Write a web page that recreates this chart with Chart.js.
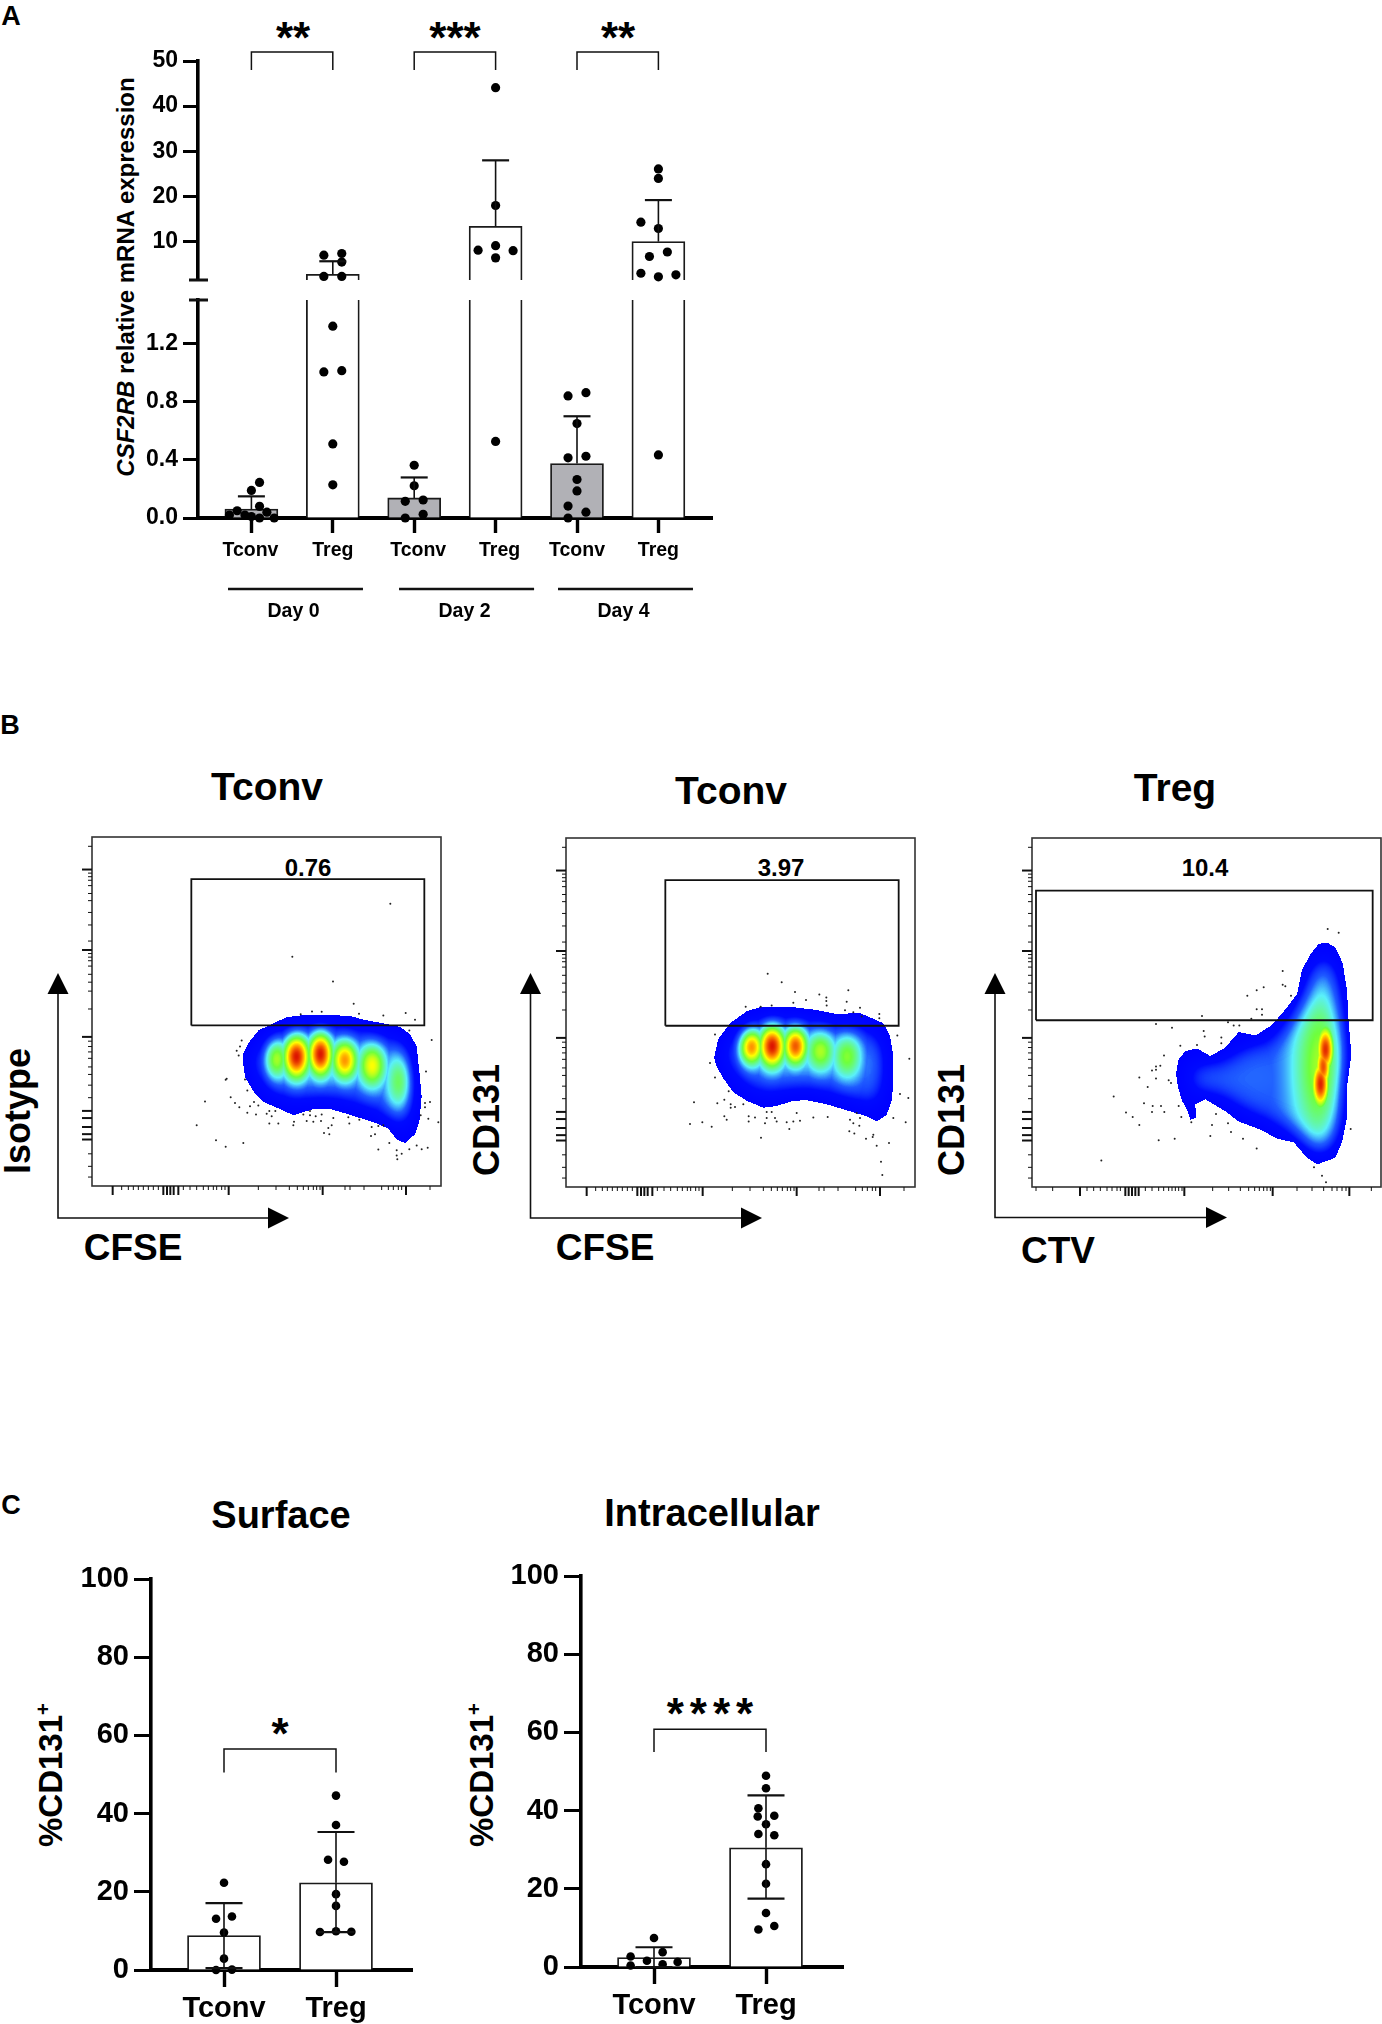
<!DOCTYPE html>
<html>
<head>
<meta charset="utf-8">
<title>CSF2RB and CD131 expression</title>
<script src="https://cdn.jsdelivr.net/npm/chart.js@4"></script>
<style>
  html, body { margin: 0; background: #fff; }
  #page { position: relative; width: 1382px; height: 2024px; overflow: hidden; font-family: "Liberation Sans", Arial, sans-serif; color: #000; }
  #page canvas { position: absolute; }
  #page svg { position: absolute; left: 0; top: 0; }
  .t { position: absolute; font-weight: bold; white-space: nowrap; line-height: 1; transform: translate(-50%, -50%); }
  .v { transform: translate(-50%, -50%) rotate(-90deg); }
  sup { font-size: 0.62em; line-height: 0; }
</style>
</head>
<body>
<div id="page">
  <div class="t" style="left:11px;top:16px;font-size:27px">A</div>
  <div class="t" style="left:10px;top:725px;font-size:27px">B</div>
  <div class="t" style="left:11px;top:1505px;font-size:27px">C</div>

  <div class="t" style="left:293px;top:38px;font-size:44px">**</div>
  <div class="t" style="left:455px;top:38px;font-size:44px">***</div>
  <div class="t" style="left:618px;top:38px;font-size:44px">**</div>
  <div class="t v" style="left:126px;top:277px;font-size:24px"><i>CSF2RB</i> relative mRNA expression</div>

  <div class="t" style="left:267px;top:786px;font-size:39px">Tconv</div>
  <div class="t" style="left:731px;top:790px;font-size:39px">Tconv</div>
  <div class="t" style="left:1175px;top:787px;font-size:39px">Treg</div>
  <div class="t" style="left:308px;top:868px;font-size:24px">0.76</div>
  <div class="t" style="left:781px;top:868px;font-size:24px">3.97</div>
  <div class="t" style="left:1205px;top:868px;font-size:24px">10.4</div>
  <div class="t v" style="left:18px;top:1111px;font-size:36px">Isotype</div>
  <div class="t v" style="left:487px;top:1120px;font-size:36px">CD131</div>
  <div class="t v" style="left:952px;top:1120px;font-size:36px">CD131</div>
  <div class="t" style="left:133px;top:1247px;font-size:37px">CFSE</div>
  <div class="t" style="left:605px;top:1247px;font-size:37px">CFSE</div>
  <div class="t" style="left:1058px;top:1250px;font-size:37px">CTV</div>

  <div class="t" style="left:281px;top:1515px;font-size:38px">Surface</div>
  <div class="t" style="left:712px;top:1513px;font-size:38px">Intracellular</div>
  <div class="t" style="left:280px;top:1734px;font-size:44px">*</div>
  <div class="t" style="left:713px;top:1714px;font-size:44px;letter-spacing:6px">****</div>
  <div class="t v" style="left:50px;top:1775px;font-size:33px">%CD131<sup>+</sup></div>
  <div class="t v" style="left:481px;top:1775px;font-size:33px">%CD131<sup>+</sup></div>

  <svg width="1382" height="2024">
    <g fill="none" stroke="#111" stroke-width="1.6">
      <path d="M58 985V1218H275"/>
      <path d="M530.5 985V1218H748"/>
      <path d="M995 985V1217.5H1212"/>
    </g>
    <g fill="#000">
      <path d="M58 973L47.5 994H68.5Z"/><path d="M289 1218L268 1207.5V1228.5Z"/>
      <path d="M530.5 973L520 994H541Z"/><path d="M762 1218L741 1207.5V1228.5Z"/>
      <path d="M995 973L984.5 994H1005.5Z"/><path d="M1227 1217.5L1206 1207V1228Z"/>
    </g>
  </svg>
</div>

<script>
const BOLD = '"Liberation Sans", Arial, sans-serif';
Chart.defaults.font.family = BOLD;
Chart.defaults.font.weight = 'bold';
Chart.defaults.color = '#000';
Chart.defaults.animation = false;

// ---- panel A, x is the group position 1..6
const groupsA = ['Tconv', 'Treg', 'Tconv', 'Treg', 'Tconv', 'Treg'];
const meansA = [0.062, 2.75, 0.138, 13.4, 0.375, 10];
const errTopA = [0.149, 5.65, 0.279, 28, 0.7, 19.2];
const pointsA = [
  [[1.1, .245], [1, .19], [1.1, .08], [.825, .05], [1.19, .04], [.73, .02], [.92, .02], [1, .01], [1.1, 0], [1.28, 0]],
  [[1.89, 7], [2.11, 7.37], [2.11, 5.47], [1.89, 2.3], [2.11, 2.3], [2, 1.32], [1.89, 1.005], [2.11, 1.014], [2, .51], [2, .228]],
  [[3, .363], [3, .222], [2.89, .115], [3.11, .124], [3.11, .025], [2.89, 0]],
  [[4, 44.1], [4, 18], [3.785, 8.1], [4, 9.1], [4.215, 8], [4, 6.4], [4, .527]],
  [[5, .65], [4.89, .84], [5.11, .862], [4.89, .414], [5.11, .425], [5, .265], [5, .186], [4.89, .082], [5.11, .04], [4.89, 0]],
  [[6, 26.1], [6, 24], [5.785, 14.3], [6, 12.9], [6.11, 7.7], [5.89, 6.7], [5.785, 3], [6.215, 2.65], [6, 2.2], [6, .434]]
];
const ticksUpperA = [10, 20, 30, 40, 50];
const ticksLowerA = [0, 0.4, 0.8, 1.2];
const axisBreakA = 1.5;
const bracketsA = [[1, 2, 52, 48], [3, 4, 52, 48], [5, 6, 52, 48]];
const daysA = ['Day 0', 'Day 2', 'Day 4'];
const dayLinesA = [[.725, 2.383], [2.826, 4.485], [4.779, 6.437]];

// ---- panel C
const groupsC = ['Tconv', 'Treg'];
const ticksC = [0, 20, 40, 60, 80, 100];
const meansSurface = [8.8, 22.3];
const errTopSurface = [17.1, 35.3];
const errBotSurface = [0.5, 9.7];
const pointsSurface = [
  [[1, 22.3], [1.071, 13.7], [.929, 13.1], [1, 9.6], [1, 2.9], [.929, 0], [1.071, .1]],
  [[2, 44.6], [2, 37.1], [1.929, 28.2], [2.071, 27.7], [2, 19.4], [2, 16.4], [1.857, 9.7], [2, 9.9], [2.137, 9.8]]
];
const meansIntra = [2.4, 30.5];
const errTopIntra = [5.05, 43.9];
const errBotIntra = [0, 17.5];
const pointsIntra = [
  [[1, 7.4], [1.077, 3.8], [.791, 2.7], [.937, 1.6], [1.211, 1.3], [.791, .4], [1.077, .7]],
  [[2, 48.9], [2, 45.7], [1.932, 40.6], [1.926, 38.5], [2.074, 38.7], [2, 36.5], [1.932, 34], [2.074, 33.7], [2, 26.3], [2, 21.3], [2, 13.8], [2.074, 10.5], [1.932, 9.6]]
];

// ---- panel B, all in cytometer channels counted from the lower left of each plot
const flowWidth = 1047;
const flowHeight = [976, 1013, 1013];
const gates = [[298, 997, 449, 858], [298, 998, 468, 891], [12, 1022, 484, 860]];

const outline1 = [[454,370],[469,400],[499,435],[544,455],[584,472],[624,477],[684,478],[774,476],[814,465],[874,455],[924,445],[954,425],[974,390],[982,320],[989,250],[982,180],[969,145],[939,120],[914,130],[889,160],[854,175],[804,190],[754,205],[714,215],[664,215],[604,198],[564,215],[514,235],[484,265],[459,305],[454,340]];
const outline2 = [[444,375],[457,430],[492,475],[542,510],[582,522],[682,522],[742,515],[812,502],[882,505],[952,475],[972,440],[982,380],[982,300],[977,250],[962,210],[932,190],[902,205],[852,220],[782,240],[722,252],[682,250],[632,235],[592,230],[542,250],[502,275],[472,315],[452,350]];
const outline3 = [[432,330],[440,370],[460,395],[495,402],[535,380],[580,405],[620,450],[670,440],[720,470],[760,515],[795,560],[810,630],[835,675],[860,705],[885,710],[910,695],[932,650],[945,570],[950,480],[958,385],[945,290],[945,200],[930,130],[910,85],[855,65],[825,85],[785,130],[735,140],[690,165],[620,190],[580,220],[520,255],[490,240],[492,200],[475,195],[465,225],[450,250],[438,290]];

// density peaks: channel x, channel y, level, spread x, spread y
const peaks1 = [[552,357,.66,26,42],[612,363,1,28,44],[684,370,1,26,44],[757,353,.85,28,40],[839,338,.74,30,44],[924,295,.62,30,62],[690,350,.5,120,46]];
const peaks2 = [[555,408,.86,26,38],[617,410,1,28,44],[687,410,.92,26,40],[762,395,.66,32,44],[842,380,.62,32,48],[925,360,.38,30,60],[690,395,.48,120,46]];
const peaks3 = [[880,400,1,20,52],[865,300,1,20,52],[873,350,.95,18,50],[870,350,.66,66,180],[660,320,.33,130,70],[490,350,.25,40,40]];

const events1 = [[895,789],[601,641],[723,572],[785,510],[801,482],[874,477],[941,484],[969,465],[626,480],[660,488],[689,487],[1019,408],[952,435],[449,407],[444,390],[434,378],[440,365],[404,300],[401,297],[459,298],[466,267],[339,236],[416,248],[429,232],[442,220],[486,235],[474,223],[499,225],[466,205],[492,200],[532,210],[550,210],[539,195],[524,202],[559,175],[532,175],[606,180],[604,170],[634,200],[654,210],[654,198],[671,195],[689,200],[644,182],[664,180],[687,182],[724,190],[772,175],[769,192],[719,170],[709,162],[696,148],[712,145],[802,185],[839,165],[859,168],[874,170],[849,145],[837,140],[859,102],[892,120],[929,90],[914,100],[914,85],[916,75],[952,103],[974,113],[989,103],[1007,107],[999,220],[1014,235],[1002,320],[999,232],[1009,188],[1039,178],[986,198],[314,170],[372,128],[401,110],[454,120]];
const events2 = [[605,619],[647,594],[687,566],[760,559],[781,550],[781,540],[720,543],[847,571],[842,538],[782,527],[682,535],[837,513],[882,520],[862,507],[940,502],[940,490],[539,523],[584,523],[617,527],[887,495],[994,440],[1030,372],[447,443],[432,360],[447,318],[488,278],[384,246],[454,243],[475,253],[494,240],[494,230],[532,240],[507,232],[475,205],[482,195],[372,183],[409,188],[437,175],[548,205],[548,190],[567,202],[602,218],[617,218],[602,200],[627,200],[632,190],[597,185],[662,188],[682,190],[702,192],[692,215],[670,168],[585,143],[742,202],[785,203],[852,195],[872,215],[882,200],[862,185],[880,178],[850,162],[865,155],[922,152],[920,145],[900,140],[932,120],[969,128],[945,73],[949,35],[982,200],[1019,188],[1002,270],[1027,258]];
const events3 = [[887,749],[920,738],[752,627],[752,587],[760,583],[695,580],[674,571],[646,555],[777,555],[674,516],[690,516],[690,500],[658,488],[510,496],[588,478],[605,469],[622,469],[372,473],[420,462],[515,453],[518,437],[568,434],[568,417],[445,410],[495,412],[396,382],[385,352],[372,350],[372,340],[360,338],[322,318],[372,315],[410,310],[417,302],[347,290],[245,263],[336,243],[362,235],[387,235],[360,218],[397,218],[282,216],[302,203],[322,180],[440,235],[448,203],[478,188],[552,212],[540,180],[588,185],[597,160],[535,148],[380,136],[428,140],[633,140],[674,112],[208,77],[956,168],[846,57],[870,33],[882,14]];

const flowMajorY = [885, 660, 417, 210, 190, 165, 145, 130];
const flowMinorY = [950,875,865,855,840,818,798,765,730,685,650,640,630,615,592,570,545,495,405,390,375,357,333,312,282,247,90,55,25];
const flowMajorX = [62, 410, 692, 942, 214, 225, 235, 245, 259];
const flowMinorX = [89,109,124,139,154,169,184,199,274,294,314,334,349,364,374,389,399,499,552,592,616,634,649,664,674,684,759,774,816,869,889,904,919,929,1014];
const flowMajorX3 = [144, 457, 722, 952, 280, 290, 300, 310, 320];
const flowMinorX3 = [12,62,165,185,205,225,240,255,265,340,360,380,395,410,420,430,440,450,542,590,625,650,668,682,695,705,715,795,840,875,900,915,930,942,1018];

// jet-like colours of the cytometry software
const jetLevels = [0, .18, .32, .44, .6, .74, .86, 1];
const jetColors = [[0,0,255],[0,10,255],[30,90,255],[90,240,250],[110,255,60],[255,255,0],[255,140,0],[220,20,0]];

function jet(v) {
  if (v >= 1) return jetColors[jetColors.length - 1];
  let i = 0;
  while (v > jetLevels[i + 1]) i++;
  const f = (v - jetLevels[i]) / (jetLevels[i + 1] - jetLevels[i]);
  return jetColors[i].map((c, k) => c + (jetColors[i + 1][k] - c) * f);
}

// paints the density cloud from the outline and peaks, through the chart scales
const densityPlugin = {
  id: 'density',
  beforeDatasetsDraw(chart, args, opts) {
    const { ctx, chartArea: a, scales: { x, y } } = chart;
    const w = Math.round(a.width), h = Math.round(a.height);
    const mask = document.createElement('canvas');
    mask.width = w; mask.height = h;
    const m = mask.getContext('2d');
    m.beginPath();
    opts.outline.forEach(([px, py], i) => {
      const X = x.getPixelForValue(px) - a.left, Y = y.getPixelForValue(py) - a.top;
      i ? m.lineTo(X, Y) : m.moveTo(X, Y);
    });
    m.closePath();
    m.fill();
    const soft = document.createElement('canvas');
    soft.width = w; soft.height = h;
    const s = soft.getContext('2d');
    s.filter = 'blur(14px)';
    s.drawImage(mask, 0, 0);
    const hard = m.getImageData(0, 0, w, h).data;
    const blur = s.getImageData(0, 0, w, h).data;
    const img = m.createImageData(w, h);
    const base = 0.3;
    for (let j = 0; j < h; j++) {
      const cy = y.getValueForPixel(a.top + j);
      for (let i = 0; i < w; i++) {
        const k = (j * w + i) * 4;
        if (hard[k + 3] < 128) continue;
        const cx = x.getValueForPixel(a.left + i);
        let top = 0;
        for (const [px, py, lvl, sx, sy] of opts.peaks) {
          const dx = (cx - px) / sx, dy = (cy - py) / sy;
          top = Math.max(top, (lvl - base) * Math.exp(-(dx * dx + dy * dy) / 2));
        }
        const edge = blur[k + 3] / 255;
        const rgb = jet(base * edge * edge * edge + top * Math.min(1, edge * 1.3));
        img.data[k] = rgb[0]; img.data[k + 1] = rgb[1]; img.data[k + 2] = rgb[2]; img.data[k + 3] = 255;
      }
    }
    m.clearRect(0, 0, w, h);
    m.putImageData(img, 0, 0);
    ctx.drawImage(mask, a.left, a.top);
  }
};

// frame and log ticks of a flow plot
const flowAxesPlugin = {
  id: 'flowAxes',
  afterDatasetsDraw(chart, args, opts) {
    const { ctx, chartArea: a, scales: { x, y } } = chart;
    const k = y.max / 976;
    ctx.save();
    ctx.strokeStyle = '#333';
    ctx.lineWidth = 1.6;
    ctx.strokeRect(a.left, a.top, a.width, a.height);
    ctx.strokeStyle = '#111';
    const tick = (list, len, lw, vertical) => {
      ctx.lineWidth = lw;
      list.forEach(v => {
        ctx.beginPath();
        if (vertical) {
          const Y = y.getPixelForValue(v * k);
          ctx.moveTo(a.left, Y); ctx.lineTo(a.left - len, Y);
        } else {
          const X = x.getPixelForValue(v);
          ctx.moveTo(X, a.bottom); ctx.lineTo(X, a.bottom + len);
        }
        ctx.stroke();
      });
    };
    tick(flowMinorY, 4, 1, true);
    tick(flowMajorY, 10, 2, true);
    tick(opts.minorX, 4, 1, false);
    tick(opts.majorX, 9, 2, false);
    ctx.restore();
  }
};

// mean + SD whiskers, brackets, axis break marks and labels of the bar panels
const barExtrasPlugin = {
  id: 'barExtras',
  afterDatasetsDraw(chart, args, opts) {
    const { ctx, chartArea: a, scales: { x, y } } = chart;
    ctx.save();
    ctx.strokeStyle = '#111';
    const line = (x1, y1, x2, y2) => { ctx.beginPath(); ctx.moveTo(x1, y1); ctx.lineTo(x2, y2); ctx.stroke(); };
    (opts.means || []).forEach((mean, i) => {
      if (mean < y.min || mean > y.max) return;
      const X = x.getPixelForValue(i + 1);
      const cap = opts.cap / 2;
      ctx.lineWidth = 1.6;
      line(X, y.getPixelForValue(mean), X, y.getPixelForValue(opts.top[i]));
      ctx.lineWidth = 2.2;
      line(X - cap, y.getPixelForValue(opts.top[i]), X + cap, y.getPixelForValue(opts.top[i]));
      if (opts.bottom) {
        ctx.lineWidth = 1.6;
        line(X, y.getPixelForValue(mean), X, y.getPixelForValue(opts.bottom[i]));
        ctx.lineWidth = 2.2;
        line(X - cap, y.getPixelForValue(opts.bottom[i]), X + cap, y.getPixelForValue(opts.bottom[i]));
      }
    });
    ctx.lineWidth = 1.5;
    (opts.brackets || []).forEach(([x1, x2, top, leg]) => {
      ctx.beginPath();
      ctx.moveTo(x.getPixelForValue(x1), y.getPixelForValue(leg));
      ctx.lineTo(x.getPixelForValue(x1), y.getPixelForValue(top));
      ctx.lineTo(x.getPixelForValue(x2), y.getPixelForValue(top));
      ctx.lineTo(x.getPixelForValue(x2), y.getPixelForValue(leg));
      ctx.stroke();
    });
    if (opts.breakAt !== undefined) {
      ctx.lineWidth = 3;
      line(a.left - 9, y.getPixelForValue(opts.breakAt), a.left + 10, y.getPixelForValue(opts.breakAt));
    }
    if (opts.showGroups) {
      ctx.fillStyle = '#000';
      ctx.textAlign = 'center';
      ctx.textBaseline = 'middle';
      ctx.font = 'bold 19.5px ' + BOLD;
      const nudge = [-1, 0, 4, 4, 0, 0];
      groupsA.forEach((g, i) => ctx.fillText(g, x.getPixelForValue(i + 1) + nudge[i], a.bottom + 33));
      ctx.lineWidth = 2.6;
      dayLinesA.forEach(([x1, x2], i) => {
        line(x.getPixelForValue(x1) - 1, a.bottom + 71, x.getPixelForValue(x2) - 1, a.bottom + 71);
        ctx.fillText(daysA[i], (x.getPixelForValue(x1) + x.getPixelForValue(x2)) / 2 - 3, a.bottom + 94);
      });
    }
    ctx.restore();
  }
};
Chart.register(densityPlugin, flowAxesPlugin, barExtrasPlugin);

// places a canvas so that the plot area lands on the given rectangle
function addChart(area, margin, config) {
  const canvas = document.createElement('canvas');
  canvas.width = area.w + margin.l + margin.r;
  canvas.height = area.h + margin.t + margin.b;
  canvas.style.left = (area.x - margin.l) + 'px';
  canvas.style.top = (area.y - margin.t) + 'px';
  document.getElementById('page').appendChild(canvas);
  const { x, y } = config.options.scales;
  const hasX = x.display !== false, hasY = y.display !== false;
  config.options.responsive = false;
  config.options.layout = { autoPadding: false, padding: { top: margin.t, right: margin.r, left: hasY ? 0 : margin.l, bottom: hasX ? 0 : margin.b } };
  if (hasY) y.afterFit = s => { s.width = margin.l; };
  if (hasX) x.afterFit = s => { s.height = margin.b; };
  return new Chart(canvas, config);
}

function barChart(area, margin, o) {
  const inRange = p => p[1] >= o.min && p[1] <= o.max;
  const bars = o.means.map((v, i) => ({ x: i + 1, y: v }));
  const dots = o.points.flat().filter(inRange).map(p => ({ x: p[0], y: p[1] }));
  return addChart(area, margin, {
    type: 'bar',
    data: {
      datasets: [
        { type: 'scatter', data: dots, backgroundColor: '#000', borderWidth: 0, pointRadius: o.dot, clip: false, order: 1 },
        { type: 'bar', data: bars, backgroundColor: o.fills, borderColor: '#1a1a1a', borderWidth: 1.8, barThickness: o.barWidth, order: 2 }
      ]
    },
    options: {
      plugins: { legend: { display: false }, tooltip: { enabled: false }, barExtras: o.extras, density: false, flowAxes: false },
      scales: {
        x: {
          type: 'linear', display: o.xTicks !== false, offset: false, min: o.xMin, max: o.xMax,
          afterBuildTicks: s => { s.ticks = o.means.map((v, i) => ({ value: i + 1 })); },
          border: { width: 4, color: '#000' },
          grid: { offset: false, drawOnChartArea: false, tickLength: o.tick, tickWidth: 3.4, tickColor: '#000' },
          ticks: { display: !!o.xLabels, padding: 5, font: { size: 29 }, autoSkip: false, maxRotation: 0, callback: v => o.xLabels ? o.xLabels[v - 1] : '' }
        },
        y: {
          min: o.min, max: o.max,
          afterBuildTicks: s => { s.ticks = o.yTicks.map(v => ({ value: v })); },
          border: { width: 3.6, color: '#000' },
          grid: { drawOnChartArea: false, tickLength: o.tick, tickWidth: 3, tickColor: '#000' },
          ticks: { padding: 5, font: { size: o.fontSize }, autoSkip: false, callback: o.yFormat }
        }
      }
    }
  });
}

function flowChart(area, n, outline, peaks, events, majorX, minorX) {
  const [gx1, gx2, gy1, gy2] = gates[n];
  const gate = [[gx1, gy1], [gx2, gy1], [gx2, gy2], [gx1, gy2], [gx1, gy1]];
  return addChart(area, { l: 14, r: 1, t: 2, b: 14 }, {
    type: 'scatter',
    data: {
      datasets: [
        { data: gate.map(p => ({ x: p[0], y: p[1] })), showLine: true, borderColor: '#111', borderWidth: 1.8, pointRadius: 0, fill: false, clip: false },
        { data: events.map(p => ({ x: p[0], y: p[1] })), backgroundColor: '#222', borderWidth: 0, pointRadius: 1 }
      ]
    },
    options: {
      plugins: {
        legend: { display: false }, tooltip: { enabled: false }, barExtras: false,
        density: { outline, peaks },
        flowAxes: { majorX, minorX }
      },
      scales: {
        x: { type: 'linear', display: false, min: 0, max: flowWidth },
        y: { type: 'linear', display: false, min: 0, max: flowHeight[n] }
      }
    }
  });
}

// panel A: the y axis is broken at 1.5, so two stacked charts share the same data
const xMinA = 1 - (251.4 - 198) / 81.4, xMaxA = 1 + (712 - 251.4) / 81.4;
const fillsA = ['#b1b1b6', '#fff', '#b1b1b6', '#fff', '#b1b1b6', '#fff'];
barChart({ x: 198, y: 61, w: 514, h: 219 }, { l: 98, r: 2, t: 24, b: 24 }, {
  min: axisBreakA, max: 50, yTicks: ticksUpperA, yFormat: v => String(v), means: meansA, points: pointsA, fills: fillsA,
  xMin: xMinA, xMax: xMaxA, xTicks: false, barWidth: 53, dot: 4.6, tick: 15, fontSize: 23,
  extras: { means: meansA, top: errTopA, cap: 27, brackets: bracketsA, breakAt: axisBreakA }
});
barChart({ x: 198, y: 300, w: 514, h: 218.6 }, { l: 98, r: 2, t: 24, b: 110 }, {
  min: 0, max: axisBreakA, yTicks: ticksLowerA, yFormat: v => v.toFixed(1), means: meansA, points: pointsA, fills: fillsA,
  xMin: xMinA, xMax: xMaxA, barWidth: 53, dot: 4.6, tick: 15, fontSize: 23,
  extras: { means: meansA, top: errTopA, cap: 27, breakAt: axisBreakA, showGroups: true }
});

// panel B
flowChart({ x: 92, y: 837, w: 349, h: 349 }, 0, outline1, peaks1, events1, flowMajorX, flowMinorX);
flowChart({ x: 566, y: 838, w: 349, h: 349 }, 1, outline2, peaks2, events2, flowMajorX, flowMinorX);
flowChart({ x: 1032, y: 838, w: 349, h: 349 }, 2, outline3, peaks3, events3, flowMajorX3, flowMinorX3);

// panel C
const fillsC = ['#fff', '#fff'];
barChart({ x: 151, y: 1579, w: 261, h: 391 }, { l: 110, r: 2, t: 24, b: 54 }, {
  min: 0, max: 100, yTicks: ticksC, yFormat: v => String(v), means: meansSurface, points: pointsSurface, fills: fillsC,
  xMin: 1 - 73 / 112, xMax: 1 + 188 / 112, xLabels: groupsC, barWidth: 73, dot: 4.3, tick: 17, fontSize: 29,
  extras: { means: meansSurface, top: errTopSurface, bottom: errBotSurface, cap: 37, brackets: [[1, 2, 56.5, 50.5]] }
});
barChart({ x: 581, y: 1576, w: 262, h: 391.5 }, { l: 110, r: 2, t: 24, b: 54 }, {
  min: 0, max: 100, yTicks: ticksC, yFormat: v => String(v), means: meansIntra, points: pointsIntra, fills: fillsC,
  xMin: 1 - 73 / 112, xMax: 1 + 189 / 112, xLabels: groupsC, barWidth: 73, dot: 4.3, tick: 17, fontSize: 29,
  extras: { means: meansIntra, top: errTopIntra, bottom: errBotIntra, cap: 37, brackets: [[1, 2, 60.8, 55]] }
});
</script>
</body>
</html>
